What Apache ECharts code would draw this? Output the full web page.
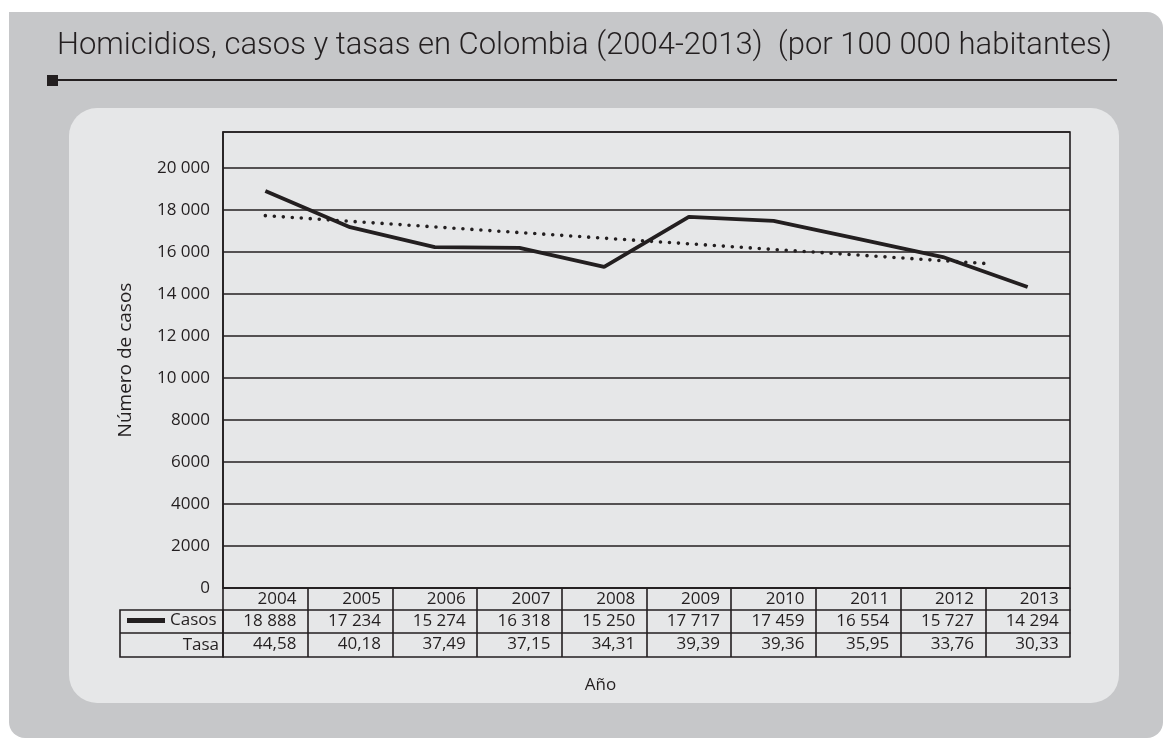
<!DOCTYPE html>
<html>
<head>
<meta charset="utf-8">
<script src="https://cdn.jsdelivr.net/npm/echarts@6/dist/echarts.min.js"></script>
<style>html,body{margin:0;padding:0;background:#fff;}#c{width:1166px;height:738px;}</style>
</head>
<body>
<div id="c"></div>
<script>
// ---- data ----
const years = ['2004','2005','2006','2007','2008','2009','2010','2011','2012','2013'];
const casosTabla = [18888, 17234, 15274, 16318, 15250, 17717, 17459, 16554, 15727, 14294];
const tasaTabla = [44.58, 40.18, 37.49, 37.15, 34.31, 39.39, 39.36, 35.95, 33.76, 30.33];
// values as drawn by the line in the picture
const casosLinea = [18900, 17180, 16230, 16200, 15290, 17670, 17480, 16620, 15760, 14330];
// dotted trend line as drawn: [position along years (0 = 2004), value]
const tendencia = [[0, 17730], [8.58, 15430]];
const yTicks = { min: 0, interval: 2000, top: 21714 };

const INK = '#231f20';
const FONT = '"Open Sans", "DejaVu Sans", sans-serif';

function miles(v) {
  const s = String(v);
  return v >= 10000 ? s.replace(/\B(?=(\d{3})+(?!\d))/g, ' ') : s;
}
function coma(v) { return v.toFixed(2).replace('.', ','); }

const cellRich = { a: { width: 62, align: 'right', fontSize: 17, fontFamily: FONT, color: INK } };
function tableAxis(offset, tickLen, fmt, extra) {
  return Object.assign({
    type: 'category', data: years, gridIndex: 0, position: 'bottom', offset: offset,
    axisLine: { show: true, onZero: false, lineStyle: { color: INK, width: 1.6 } },
    axisTick: { show: true, interval: 0, length: tickLen, lineStyle: { color: INK, width: 1.6 } },
    axisLabel: { show: fmt !== null, interval: 0, margin: 3,
      formatter: fmt ? (v, i) => '{a|' + fmt(v, i) + '}' : () => '', rich: cellRich },
    splitLine: { show: false }
  }, extra || {});
}

const chart = echarts.init(document.getElementById('c'), null, { renderer: 'canvas' });
chart.setOption({
  backgroundColor: '#ffffff',
  animation: false,
  title: {
    text: 'Homicidios, casos y tasas en Colombia (2004-2013)  (por 100 000 habitantes)',
    left: 57, top: 31, padding: 0,
    textStyle: { fontFamily: 'Roboto, sans-serif', fontWeight: 300, fontSize: 31, color: INK }
  },
  graphic: { elements: [
    { type: 'rect', z: -100, shape: { x: 9, y: 12, width: 1154, height: 726, r: [0, 16, 16, 16] }, style: { fill: '#c6c7c9' } },
    { type: 'rect', z: -99, shape: { x: 69, y: 108, width: 1050, height: 595, r: 28 }, style: { fill: '#e6e7e8' } },
    { type: 'rect', z: -98, shape: { x: 47, y: 75, width: 11, height: 11 }, style: { fill: INK } },
    { type: 'rect', z: -98, shape: { x: 58, y: 79, width: 1059, height: 2 }, style: { fill: INK } },
    { type: 'rect', z: 5, shape: { x: 120, y: 610, width: 103, height: 47 }, style: { fill: 'none', stroke: INK, lineWidth: 1.6 } },
    { type: 'line', z: 5, shape: { x1: 120, y1: 633, x2: 223, y2: 633 }, style: { stroke: INK, lineWidth: 1.6 } },
    { type: 'text', z: 5, x: 219, y: 645, style: { text: 'Tasa', align: 'right', verticalAlign: 'middle', fontSize: 17, fontFamily: FONT, fill: INK } }
  ] },
  legend: {
    data: ['Casos'], left: 127, top: 612, padding: 0, icon: 'rect', itemWidth: 38, itemHeight: 5,
    textStyle: { fontSize: 17, fontFamily: FONT, color: INK, padding: [0, 0, 0, 0] },
    selectedMode: false
  },
  grid: { left: 223, top: 132, width: 847, height: 456, show: true, borderColor: INK, borderWidth: 1.6, backgroundColor: 'transparent', containLabel: false },
  xAxis: [
    tableAxis(0, 22, (v) => v),
    tableAxis(22, 23, (v, i) => miles(casosTabla[i])),
    tableAxis(45, 24, (v, i) => coma(tasaTabla[i])),
    tableAxis(69, 0, null, { axisTick: { show: false }, name: 'Año', nameLocation: 'middle', nameGap: 20,
      nameTextStyle: { fontSize: 17, fontFamily: FONT, color: INK, padding: [0, 92, 0, 0] } }),
    { type: 'value', gridIndex: 0, min: -0.5, max: 9.5, show: false, axisLine: { onZero: false } }
  ],
  yAxis: {
    type: 'value', min: yTicks.min, max: yTicks.top, interval: yTicks.interval,
    name: 'Número de casos', nameLocation: 'middle', nameRotate: 90, nameGap: 88,
    nameTextStyle: { fontSize: 19, fontFamily: FONT, color: INK },
    axisLine: { show: true, onZero: false, lineStyle: { color: INK, width: 1.6 } },
    axisTick: { show: false },
    axisLabel: { showMaxLabel: false, margin: 13, fontSize: 17, fontFamily: FONT, color: INK, formatter: miles },
    splitLine: { show: true, lineStyle: { color: INK, width: 1.6 } }
  },
  series: [
    { name: 'Casos', type: 'line', xAxisIndex: 0, yAxisIndex: 0, data: casosLinea, showSymbol: false, symbol: 'none',
      itemStyle: { color: INK }, lineStyle: { color: INK, width: 3.8 }, z: 4 },
    { name: 'Tendencia', type: 'line', xAxisIndex: 4, yAxisIndex: 0, data: tendencia, showSymbol: false, symbol: 'none',
      lineStyle: { color: INK, width: 3.6, type: [0, 9], cap: 'round' }, z: 3 }
  ]
});
</script>
</body>
</html>
